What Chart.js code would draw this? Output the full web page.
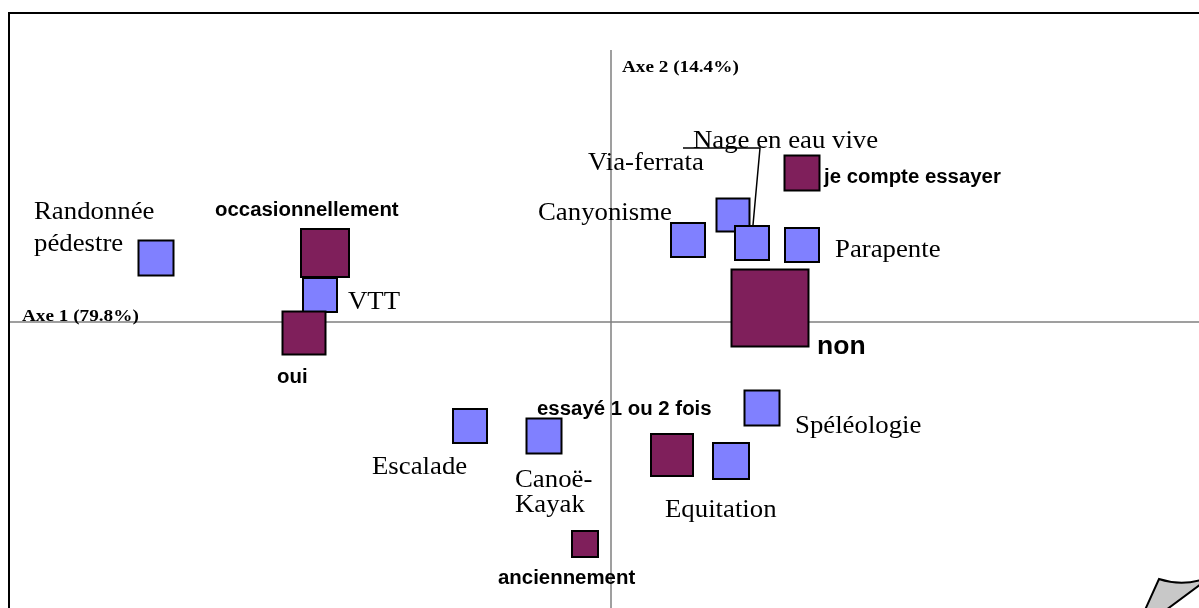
<!DOCTYPE html>
<html>
<head>
<meta charset="utf-8">
<script src="https://cdn.jsdelivr.net/npm/chart.js@4"></script>
<style>
  html, body { margin: 0; padding: 0; background: #fff; overflow: hidden; }
  canvas { display: block; }
</style>
</head>
<body>
<canvas id="afc" width="1199" height="608"></canvas>
<script>
(function () {
  "use strict";

  /* ── Data (AFC coordinates, axe 1 / axe 2) ── */
  var names  = ["Randonnée pédestre", "VTT", "occasionnellement", "oui", "Escalade", "Canoë-Kayak",
                "essayé 1 ou 2 fois", "anciennement", "Equitation", "Spéléologie", "non",
                "Canyonisme", "Via-ferrata", "Nage en eau vive", "Parapente", "je compte essayer"];
  var axis1  = [-4.55, -2.91, -2.86, -3.07, -1.41, -0.67, 0.61, -0.26, 1.20, 1.51, 1.59, 0.77, 1.22, 1.41, 1.91, 1.91];
  var axis2  = [ 0.64,  0.27,  0.69, -0.11, -1.04, -1.14, -1.33, -2.22, -1.39, -0.86, 0.14, 0.82, 1.07, 0.79, 0.77, 1.49];
  var masses = [37, 36, 50, 45, 36, 37, 44, 28, 38, 37, 79, 36, 35, 36, 36, 37];
  var kinds  = ["act", "act", "mod", "mod", "act", "act", "mod", "mod", "act", "act", "mod", "act", "act", "act", "act", "mod"];
  var axisTitles = ["Axe 1 (79.8%)", "Axe 2 (14.4%)"];

  /* ── Styles ── */
  var COLORS = { act: "#8080ff", mod: "#7f1f5b" };
  var SERIF = '26px "Liberation Serif", "Times New Roman", serif';
  var SANS = 'bold 20px "Liberation Sans", Arial, sans-serif';

  // label placement relative to square centre (px): [text, dx, dy]
  var labelLayout = {
    "Randonnée pédestre": { font: SERIF, sx: 1.03, lines: [["Randonnée", -122, -39], ["pédestre", -122, -7]] },
    "VTT":                { font: SERIF, sx: 1.03, lines: [["VTT", 28, 14]] },
    "Escalade":           { font: SERIF, sx: 1.03, lines: [["Escalade", -98, 48]] },
    "Canoë-Kayak":        { font: SERIF, sx: 1.03, lines: [["Canoë-", -29, 51], ["Kayak", -29, 76]] },
    "Equitation":         { font: SERIF, sx: 1.03, lines: [["Equitation", -66, 56]] },
    "Spéléologie":        { font: SERIF, sx: 1.03, lines: [["Spéléologie", 33, 25]] },
    "Canyonisme":         { font: SERIF, sx: 1.03, lines: [["Canyonisme", -150, -20]] },
    "Via-ferrata":        { font: SERIF, sx: 1.03, lines: [["Via-ferrata", -145, -45]] },
    "Nage en eau vive":   { font: SERIF, sx: 1.03, lines: [["Nage en eau vive", -59, -95]] },
    "Parapente":          { font: SERIF, sx: 1.03, lines: [["Parapente", 33, 12]] },
    "occasionnellement":  { font: SANS, sx: 1.02, lines: [["occasionnellement", -110, -37]] },
    "oui":                { font: SANS, sx: 1.02, lines: [["oui", -27, 50]] },
    "non":                { font: 'bold 26px "Liberation Sans", Arial, sans-serif', sx: 1.02, lines: [["non", 47, 46]] },
    "essayé 1 ou 2 fois": { font: SANS, sx: 1.02, lines: [["essayé 1 ou 2 fois", -135, -40]] },
    "anciennement":       { font: SANS, sx: 1.02, lines: [["anciennement", -87, 40]] },
    "je compte essayer":  { font: SANS, sx: 1.02, lines: [["je compte essayer", 22, 10]] }
  };

  function stretchText(ctx, text, x, y, sx) {
    ctx.save();
    ctx.translate(x, y);
    ctx.scale(sx, 1);
    ctx.fillText(text, 0, 0);
    ctx.restore();
  }

  /* ── Frame + axes under the squares, labels over them ── */
  var backdrop = {
    id: "backdrop",
    beforeDatasetsDraw: function (chart) {
      var ctx = chart.ctx, xs = chart.scales.x, ys = chart.scales.y;
      var x0 = xs.getPixelForValue(0), y0 = ys.getPixelForValue(0);
      ctx.save();
      ctx.strokeStyle = "#000";
      ctx.lineWidth = 2;
      ctx.strokeRect(9, 13, 1300, 700);

      ctx.strokeStyle = "#808080";
      ctx.lineWidth = 1.5;
      ctx.beginPath();
      ctx.moveTo(x0, 50); ctx.lineTo(x0, chart.height);
      ctx.moveTo(10, y0); ctx.lineTo(chart.width, y0);
      ctx.stroke();

      ctx.fillStyle = "#000";
      ctx.font = 'bold 16px "Liberation Serif", "Times New Roman", serif';
      ctx.textBaseline = "alphabetic";
      stretchText(ctx, axisTitles[0], 22, y0 - 1, 1.2);
      stretchText(ctx, axisTitles[1], x0 + 11, 72, 1.2);
      ctx.restore();
    },
    afterDatasetsDraw: function (chart) {
      var ctx = chart.ctx, meta = chart.getDatasetMeta(0);
      ctx.save();
      ctx.fillStyle = "#000";
      ctx.textBaseline = "alphabetic";
      names.forEach(function (n, i) {
        var lay = labelLayout[n], pt = meta.data[i];
        if (!lay) return;
        ctx.font = lay.font;
        lay.lines.forEach(function (l) {
          stretchText(ctx, l[0], pt.x + l[1], pt.y + l[2], lay.sx);
        });
      });

      // leader line for "Nage en eau vive"
      var nage = meta.data[names.indexOf("Nage en eau vive")];
      ctx.strokeStyle = "#000";
      ctx.lineWidth = 1.5;
      ctx.beginPath();
      ctx.moveTo(nage.x - 69, nage.y - 95);
      ctx.lineTo(nage.x + 8, nage.y - 95);
      ctx.lineTo(nage.x + 1, nage.y - 18);
      ctx.stroke();

      // page curl, bottom right
      ctx.fillStyle = "#c8c8c8";
      ctx.lineWidth = 2;
      ctx.beginPath();
      ctx.moveTo(1145, 610);
      ctx.lineTo(1159, 579);
      ctx.quadraticCurveTo(1180, 586, 1201, 580);
      ctx.lineTo(1201, 584);
      ctx.lineTo(1166, 610);
      ctx.closePath();
      ctx.fill();
      ctx.stroke();
      ctx.restore();
    }
  };

  var points = axis1.map(function (x, i) { return { x: x, y: axis2[i] }; });
  var radii = masses.map(function (s) { return (s - 2) / Math.SQRT2; });

  new Chart(document.getElementById("afc").getContext("2d"), {
    type: "scatter",
    data: {
      datasets: [{
        data: points,
        pointStyle: "rect",
        pointRadius: radii,
        pointHoverRadius: radii,
        backgroundColor: kinds.map(function (k) { return COLORS[k]; }),
        borderColor: "#000",
        borderWidth: 2,
        clip: false
      }]
    },
    options: {
      responsive: false,
      animation: false,
      events: [],
      layout: { padding: 0, autoPadding: false },
      plugins: { legend: { display: false }, tooltip: { enabled: false } },
      scales: {
        x: { type: "linear", min: -6.11, max: 5.88, display: false },
        y: { type: "linear", min: -2.86, max: 3.22, display: false }
      }
    },
    plugins: [backdrop]
  });
})();
</script>
</body>
</html>
